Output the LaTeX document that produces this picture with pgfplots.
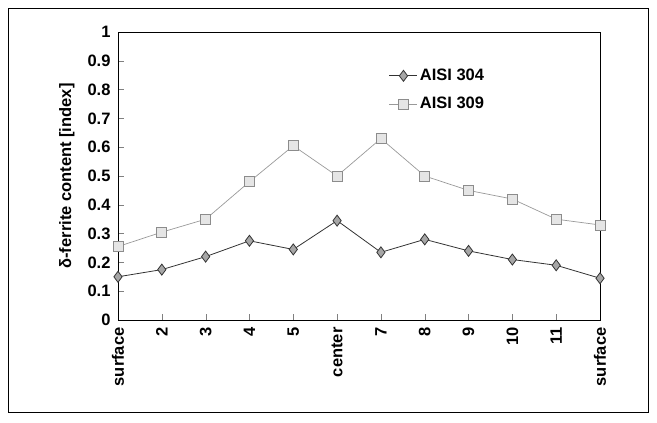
\documentclass[border=0pt]{standalone}
\usepackage{pgfplots}
\pgfplotsset{compat=1.18}
\usepackage{fontspec}
\setmainfont{Liberation Sans}
\begin{document}
\begin{tikzpicture}
\begin{axis}[
  scale only axis,
  width=482pt, height=288pt,
  xmin=0, xmax=11, ymin=0, ymax=1,
  xtick={0,...,11},
  xticklabels={surface,2,3,4,5,center,7,8,9,10,11,surface},
  ytick={0,0.1,...,1},
  yticklabel style={/pgf/number format/fixed,/pgf/number format/precision=1, xshift=-4pt},
  /pgf/number format/assume math mode=true,
  tick label style={font=\fontsize{16.5}{18}\selectfont\bfseries},
  xticklabel style={rotate=90, anchor=east, xshift=-4pt},
  tick align=inside,
  tick pos=left,
  major tick length=6pt,
  axis line style={black, line width=0.8pt},
  ylabel={\fontsize{16.5}{18}\selectfont\bfseries δ-ferrite content [index]},
  ylabel shift=6pt,
  legend style={draw=none, fill=none, at={(0.562,0.878)}, anchor=north west, font=\fontsize{16.5}{18}\selectfont\bfseries, row sep=11pt, inner sep=0pt},
  legend cell align=left,
  legend image code/.code={
    \draw[#1, mark repeat=2, mark phase=2] plot coordinates {(0pt,0pt) (14pt,0pt) (28pt,0pt)};
  },
]
\addplot[black!80, line width=0.8pt, mark=diamond*, mark size=5.5pt, mark options={fill=gray!70, draw=black!80}]
 coordinates {(0,0.15)(1,0.175)(2,0.22)(3,0.275)(4,0.245)(5,0.345)(6,0.235)(7,0.28)(8,0.24)(9,0.21)(10,0.19)(11,0.145)};
\addlegendentry{AISI 304}
\addplot[gray!80, line width=0.7pt, mark=square*, mark size=5pt, mark options={fill=gray!20, draw=gray!90}]
 coordinates {(0,0.255)(1,0.305)(2,0.35)(3,0.48)(4,0.605)(5,0.50)(6,0.63)(7,0.50)(8,0.45)(9,0.42)(10,0.35)(11,0.33)};
\addlegendentry{AISI 309}
\end{axis}
\draw[black, line width=0.7pt] ([xshift=-110pt,yshift=-92pt]current axis.south west) rectangle ([xshift=48pt,yshift=24pt]current axis.north east);
\useasboundingbox ([xshift=-118pt,yshift=-102pt]current axis.south west) rectangle ([xshift=57pt,yshift=32pt]current axis.north east);
\end{tikzpicture}
\end{document}
